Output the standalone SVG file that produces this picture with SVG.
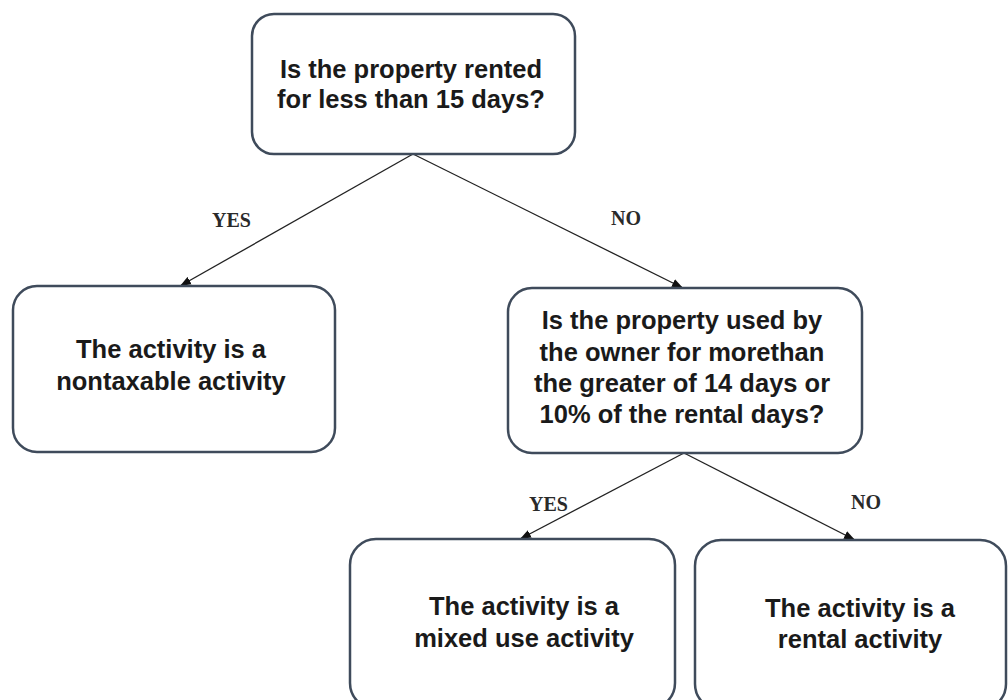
<svg xmlns="http://www.w3.org/2000/svg" width="1008" height="700" viewBox="0 0 1008 700">
  <defs>
    <style>
      .box { fill: #ffffff; stroke: #3f4b5b; stroke-width: 2.5; }
      .t { font-family: "Liberation Sans", Arial, sans-serif; font-weight: bold; font-size: 25.5px; fill: #1a1a1a; text-anchor: middle; }
      .lbl { font-family: "Liberation Serif", "Times New Roman", serif; font-weight: bold; font-size: 20px; fill: #2a2a2a; }
      .conn { fill: none; stroke: #222222; stroke-width: 1.3; }
    </style>
    <marker id="arrow" markerUnits="userSpaceOnUse" markerWidth="12" markerHeight="10" refX="11" refY="5" orient="auto">
      <path d="M0,0.8 L11,5 L0,9.2 Z" fill="#111111"/>
    </marker>
  </defs>
  <rect x="0" y="0" width="1008" height="700" fill="#ffffff"/>

  <g id="connectors">
    <line class="conn" x1="413" y1="154" x2="180" y2="286" marker-end="url(#arrow)"/>
    <line class="conn" x1="413" y1="154" x2="683" y2="288" marker-end="url(#arrow)"/>
    <line class="conn" x1="684" y1="453" x2="520" y2="539" marker-end="url(#arrow)"/>
    <line class="conn" x1="684" y1="453" x2="855" y2="540" marker-end="url(#arrow)"/>
    <text class="lbl" x="212" y="227">YES</text>
    <text class="lbl" x="611" y="225">NO</text>
    <text class="lbl" x="529" y="511">YES</text>
    <text class="lbl" x="851" y="509">NO</text>
  </g>

  <g id="q1">
    <rect class="box" x="252" y="14" width="323" height="140" rx="22"/>
    <text class="t" x="411" y="78">Is the property rented</text>
    <text class="t" x="411" y="108">for less than 15 days?</text>
  </g>

  <g id="nontaxable">
    <rect class="box" x="13" y="286" width="322" height="166" rx="24"/>
    <text class="t" x="171" y="358">The activity is a</text>
    <text class="t" x="171" y="390">nontaxable activity</text>
  </g>

  <g id="q2">
    <rect class="box" x="508" y="288" width="354" height="165" rx="24"/>
    <text class="t" x="682" y="329">Is the property used by</text>
    <text class="t" x="682" y="361">the owner for morethan</text>
    <text class="t" x="682" y="392">the greater of 14 days or</text>
    <text class="t" x="682" y="423">10% of the rental days?</text>
  </g>

  <g id="mixed">
    <rect class="box" x="350" y="539" width="325" height="170" rx="26"/>
    <text class="t" x="524" y="615">The activity is a</text>
    <text class="t" x="524" y="647">mixed use activity</text>
  </g>

  <g id="rental">
    <rect class="box" x="695" y="540" width="311" height="170" rx="26"/>
    <text class="t" x="860" y="617">The activity is a</text>
    <text class="t" x="860" y="648">rental activity</text>
  </g>
</svg>
